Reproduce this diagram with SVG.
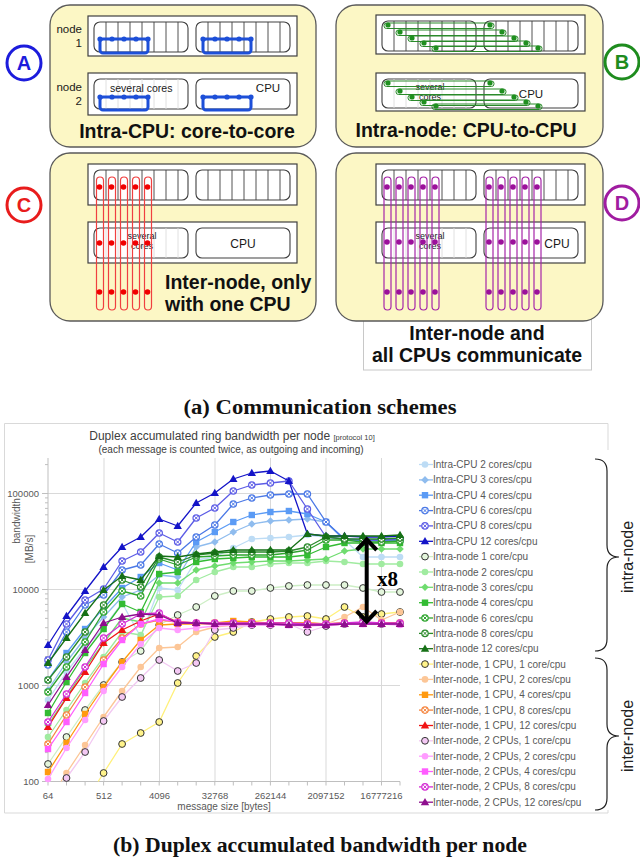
<svg xmlns="http://www.w3.org/2000/svg" width="640" height="859" viewBox="0 0 640 859">
<style>
  .panel{fill:#fcf7c5;stroke:#5a5a5a;stroke-width:1.3}
  .nodebox{fill:#fff;stroke:#404040;stroke-width:1.2}
  .cpu{fill:#fff;stroke:#404040;stroke-width:1.1}
  .core{stroke:#404040;stroke-width:0.9;fill:none}
  .corefaint{stroke:#dcdcdc;stroke-width:0.9;fill:none}
  .sans{font-family:"Liberation Sans",Arial,sans-serif}
  .lbl{font-family:"Liberation Sans",Arial,sans-serif;fill:#1a1a1a}
  .sm{font-size:9px;text-anchor:middle}
  .head{font-family:"Liberation Sans",Arial,sans-serif;font-weight:bold;font-size:19.5px;fill:#111}
  .tag circle{fill:#fff;stroke-width:3}
  .tag text{font-family:"Liberation Sans",Arial,sans-serif;font-weight:bold;font-size:20px;text-anchor:middle}
  .blue{stroke:#1d4fd8;fill:none;stroke-width:3}
  .green{stroke:#2a8a2a;fill:none;stroke-width:1}
  .red{stroke:#f04040;fill:none;stroke-width:1.2}
  .purple{stroke:#a626a8;fill:none;stroke-width:1.2}
  .cap{font-family:"Liberation Serif","Times New Roman",serif;font-weight:bold;font-size:20px;fill:#111;text-anchor:middle}
  .grid{stroke:#d9d9d9;stroke-width:1;fill:none}
  .axis{stroke:#bfbfbf;stroke-width:1;fill:none}
  .tk{font-family:"Liberation Sans",Arial,sans-serif;font-size:9.5px;fill:#595959}
  .leg text{font-family:"Liberation Sans",Arial,sans-serif;font-size:10px;fill:#595959}
  .leg polyline{marker-start:none;marker-end:none}
  .ser{fill:none;stroke-width:1.3;stroke-linejoin:round}
  .s1{stroke:#bddcf5;marker:url(#m1)} .s2{stroke:#8fbcee;marker:url(#m2)} .s3{stroke:#5b9bf5;marker:url(#m3)}
  .s4{stroke:#4a78e6;marker:url(#m4)} .s5{stroke:#5c5ce6;marker:url(#m5)} .s6{stroke:#1414c8;marker:url(#m6)}
  .s7{stroke:#cdeec5;marker:url(#m7)} .s8{stroke:#a0eba0;marker:url(#m8)} .s9{stroke:#6fdc6f;marker:url(#m9)}
  .s10{stroke:#33bb33;marker:url(#m10)} .s11{stroke:#2ea52e;marker:url(#m11)} .s12{stroke:#2a8a2a;marker:url(#m12)}
  .s13{stroke:#167016;marker:url(#m13)} .s14{stroke:#fff07a;marker:url(#m14)} .s15{stroke:#fcc697;marker:url(#m15)}
  .s16{stroke:#ff9a10;marker:url(#m16)} .s17{stroke:#f5853f;marker:url(#m17)} .s18{stroke:#f01414;marker:url(#m18)}
  .s19{stroke:#f2c8f2;marker:url(#m19)} .s20{stroke:#ff9cff;marker:url(#m20)} .s21{stroke:#ff5cff;marker:url(#m21)}
  .s22{stroke:#d42cd4;marker:url(#m22)} .s23{stroke:#8e0e8e;marker:url(#m23)}
</style>
<defs>
  <marker id="m1" viewBox="-6 -6 12 12" markerWidth="12" markerHeight="12" markerUnits="userSpaceOnUse"><circle r="3.3" fill="#bddcf5"/></marker>
  <marker id="m2" viewBox="-6 -6 12 12" markerWidth="12" markerHeight="12" markerUnits="userSpaceOnUse"><path d="M0,-3.8L3.8,0L0,3.8L-3.8,0Z" fill="#8fbcee"/></marker>
  <marker id="m3" viewBox="-6 -6 12 12" markerWidth="12" markerHeight="12" markerUnits="userSpaceOnUse"><rect x="-3.2" y="-3.2" width="6.4" height="6.4" fill="#5b9bf5"/></marker>
  <marker id="m4" viewBox="-6 -6 12 12" markerWidth="12" markerHeight="12" markerUnits="userSpaceOnUse"><circle r="3.2" fill="#fff" stroke="#4a78e6" stroke-width="1.2"/><path d="M-1.8,-1.8L1.8,1.8M-1.8,1.8L1.8,-1.8" stroke="#4a78e6" stroke-width="1"/></marker>
  <marker id="m5" viewBox="-6 -6 12 12" markerWidth="12" markerHeight="12" markerUnits="userSpaceOnUse"><circle r="3.2" fill="#fff" stroke="#5c5ce6" stroke-width="1.2"/><path d="M-1.8,-1.8L1.8,1.8M-1.8,1.8L1.8,-1.8" stroke="#5c5ce6" stroke-width="1"/></marker>
  <marker id="m6" viewBox="-6 -6 12 12" markerWidth="12" markerHeight="12" markerUnits="userSpaceOnUse"><path d="M0,-4.3L4.2,3L-4.2,3Z" fill="#1414c8"/></marker>
  <marker id="m7" viewBox="-6 -6 12 12" markerWidth="12" markerHeight="12" markerUnits="userSpaceOnUse"><circle r="3.4" fill="#e4f6dc" stroke="#333" stroke-width="1"/></marker>
  <marker id="m8" viewBox="-6 -6 12 12" markerWidth="12" markerHeight="12" markerUnits="userSpaceOnUse"><circle r="3.3" fill="#a0eba0"/></marker>
  <marker id="m9" viewBox="-6 -6 12 12" markerWidth="12" markerHeight="12" markerUnits="userSpaceOnUse"><path d="M0,-3.8L3.8,0L0,3.8L-3.8,0Z" fill="#6fdc6f"/></marker>
  <marker id="m10" viewBox="-6 -6 12 12" markerWidth="12" markerHeight="12" markerUnits="userSpaceOnUse"><rect x="-3.2" y="-3.2" width="6.4" height="6.4" fill="#33bb33"/></marker>
  <marker id="m11" viewBox="-6 -6 12 12" markerWidth="12" markerHeight="12" markerUnits="userSpaceOnUse"><circle r="3.2" fill="#fff" stroke="#2ea52e" stroke-width="1.2"/><path d="M-1.8,-1.8L1.8,1.8M-1.8,1.8L1.8,-1.8" stroke="#2ea52e" stroke-width="1"/></marker>
  <marker id="m12" viewBox="-6 -6 12 12" markerWidth="12" markerHeight="12" markerUnits="userSpaceOnUse"><circle r="3.2" fill="#fff" stroke="#2a8a2a" stroke-width="1.2"/><path d="M-1.8,-1.8L1.8,1.8M-1.8,1.8L1.8,-1.8" stroke="#2a8a2a" stroke-width="1"/></marker>
  <marker id="m13" viewBox="-6 -6 12 12" markerWidth="12" markerHeight="12" markerUnits="userSpaceOnUse"><path d="M0,-4.3L4.2,3L-4.2,3Z" fill="#167016"/></marker>
  <marker id="m14" viewBox="-6 -6 12 12" markerWidth="12" markerHeight="12" markerUnits="userSpaceOnUse"><circle r="3.4" fill="#fff38a" stroke="#333" stroke-width="1"/></marker>
  <marker id="m15" viewBox="-6 -6 12 12" markerWidth="12" markerHeight="12" markerUnits="userSpaceOnUse"><circle r="3.3" fill="#fcc697"/></marker>
  <marker id="m16" viewBox="-6 -6 12 12" markerWidth="12" markerHeight="12" markerUnits="userSpaceOnUse"><rect x="-3.2" y="-3.2" width="6.4" height="6.4" fill="#ff9a10"/></marker>
  <marker id="m17" viewBox="-6 -6 12 12" markerWidth="12" markerHeight="12" markerUnits="userSpaceOnUse"><circle r="3.2" fill="#fff" stroke="#f5853f" stroke-width="1.2"/><path d="M-1.8,-1.8L1.8,1.8M-1.8,1.8L1.8,-1.8" stroke="#f5853f" stroke-width="1"/></marker>
  <marker id="m18" viewBox="-6 -6 12 12" markerWidth="12" markerHeight="12" markerUnits="userSpaceOnUse"><path d="M0,-4.3L4.2,3L-4.2,3Z" fill="#f01414"/></marker>
  <marker id="m19" viewBox="-6 -6 12 12" markerWidth="12" markerHeight="12" markerUnits="userSpaceOnUse"><circle r="3.4" fill="#f4c8f4" stroke="#333" stroke-width="1"/></marker>
  <marker id="m20" viewBox="-6 -6 12 12" markerWidth="12" markerHeight="12" markerUnits="userSpaceOnUse"><circle r="3.3" fill="#ff9cff"/></marker>
  <marker id="m21" viewBox="-6 -6 12 12" markerWidth="12" markerHeight="12" markerUnits="userSpaceOnUse"><rect x="-3.2" y="-3.2" width="6.4" height="6.4" fill="#ff5cff"/></marker>
  <marker id="m22" viewBox="-6 -6 12 12" markerWidth="12" markerHeight="12" markerUnits="userSpaceOnUse"><circle r="3.2" fill="#fff" stroke="#d42cd4" stroke-width="1.2"/><path d="M-1.8,-1.8L1.8,1.8M-1.8,1.8L1.8,-1.8" stroke="#d42cd4" stroke-width="1"/></marker>
  <marker id="m23" viewBox="-6 -6 12 12" markerWidth="12" markerHeight="12" markerUnits="userSpaceOnUse"><path d="M0,-4.3L4.2,3L-4.2,3Z" fill="#8e0e8e"/></marker>
</defs>

<rect width="640" height="859" fill="#fff"/>

<!-- ===== (a) communication schemes ===== -->
<g id="panel-a">
  <rect class="panel" x="50" y="5" width="266" height="142" rx="20"/>
  <rect class="nodebox" x="88" y="16" width="209" height="40"/>
  <rect class="cpu" x="94" y="22" width="94" height="30" rx="6"/>
  <rect class="cpu" x="196" y="22" width="94" height="30" rx="6"/>
  <path class="core" d="M106,22V52M118,22V52M130,22V52M142,22V52M154,22V52M166,22V52M178,22V52M208,22V52M220,22V52M232,22V52M244,22V52M256,22V52M268,22V52M280,22V52"/>
  <rect class="nodebox" x="88" y="73" width="209" height="42"/>
  <rect class="cpu" x="94" y="79" width="94" height="30" rx="6"/>
  <rect class="cpu" x="196" y="79" width="94" height="30" rx="6"/>
  <path class="corefaint" d="M106,79V109M118,79V109M130,79V109M142,79V109M154,79V109M166,79V109M178,79V109"/>
  <text class="lbl" x="82" y="33" font-size="11.5" text-anchor="end">node</text>
  <text class="lbl" x="82" y="47" font-size="11.5" text-anchor="end">1</text>
  <text class="lbl" x="82" y="91" font-size="11.5" text-anchor="end">node</text>
  <text class="lbl" x="82" y="105" font-size="11.5" text-anchor="end">2</text>
  <text class="lbl" x="110" y="92" font-size="10.5">several cores</text>
  <text class="lbl" x="268" y="92" font-size="11.5" text-anchor="middle">CPU</text>
  <g id="rings-a" fill="#1d4fd8">
    <rect class="blue" x="100" y="39" width="48" height="14" rx="3"/>
    <rect class="blue" x="203" y="39" width="48" height="14" rx="3"/>
    <rect class="blue" x="100" y="97" width="48" height="13" rx="3"/>
    <rect class="blue" x="203" y="97" width="48" height="13" rx="3"/>
    <circle cx="100" cy="39" r="2.6"/><circle cx="112" cy="39" r="2.6"/><circle cx="124" cy="39" r="2.6"/><circle cx="136" cy="39" r="2.6"/><circle cx="148" cy="39" r="2.6"/>
    <circle cx="203" cy="39" r="2.6"/><circle cx="215" cy="39" r="2.6"/><circle cx="227" cy="39" r="2.6"/><circle cx="239" cy="39" r="2.6"/><circle cx="251" cy="39" r="2.6"/>
    <circle cx="100" cy="97" r="2.6"/><circle cx="112" cy="97" r="2.6"/><circle cx="124" cy="97" r="2.6"/><circle cx="136" cy="97" r="2.6"/><circle cx="148" cy="97" r="2.6"/>
    <circle cx="203" cy="97" r="2.6"/><circle cx="215" cy="97" r="2.6"/><circle cx="227" cy="97" r="2.6"/><circle cx="239" cy="97" r="2.6"/><circle cx="251" cy="97" r="2.6"/>
  </g>
  <text class="head" x="187" y="138" text-anchor="middle">Intra-CPU: core-to-core</text>
  <g class="tag"><circle cx="24" cy="63" r="17" stroke="#1c1cdc"/><text x="24" y="70" fill="#1c1cdc">A</text></g>
</g>

<g id="panel-b">
  <rect class="panel" x="336" y="5" width="267" height="142" rx="20"/>
  <rect class="nodebox" x="376" y="15" width="209" height="39"/>
  <rect class="cpu" x="382" y="21" width="94" height="30" rx="6"/>
  <rect class="cpu" x="484" y="21" width="94" height="30" rx="6"/>
  <path class="core" d="M394,21V51M406,21V51M418,21V51M430,21V51M442,21V51M454,21V51M466,21V51M496,21V51M508,21V51M520,21V51M532,21V51M544,21V51M556,21V51M568,21V51"/>
  <rect class="nodebox" x="376" y="73" width="209" height="38"/>
  <rect class="cpu" x="382" y="79" width="94" height="29" rx="6"/>
  <rect class="cpu" x="484" y="79" width="94" height="29" rx="6"/>
  <path class="corefaint" d="M394,79V108M406,79V108M418,79V108M430,79V108M442,79V108M454,79V108M466,79V108"/>
  <text class="lbl sm" x="430" y="89.5">several</text>
  <text class="lbl sm" x="430" y="99.5">cores</text>
  <text class="lbl" x="531" y="98" font-size="11.5" text-anchor="middle">CPU</text>
  <g id="rings-b" fill="#1f8f1f">
    <rect class="green" x="384" y="23" width="110" height="5.5" rx="2.5"/>
    <rect class="green" x="396" y="30" width="110" height="5.5" rx="2.5"/>
    <rect class="green" x="408" y="36" width="110" height="5.5" rx="2.5"/>
    <rect class="green" x="420" y="41" width="110" height="5.5" rx="2.5"/>
    <rect class="green" x="432" y="46" width="110" height="5.5" rx="2.5"/>
    <circle cx="388" cy="25" r="2.6"/><circle cx="490" cy="25" r="2.6"/>
    <circle cx="400" cy="32" r="2.6"/><circle cx="502" cy="32" r="2.6"/>
    <circle cx="412" cy="38" r="2.6"/><circle cx="514" cy="38" r="2.6"/>
    <circle cx="424" cy="43" r="2.6"/><circle cx="526" cy="43" r="2.6"/>
    <circle cx="436" cy="48" r="2.6"/><circle cx="538" cy="48" r="2.6"/>
    <rect class="green" x="384" y="81" width="110" height="5.5" rx="2.5"/>
    <rect class="green" x="396" y="89" width="110" height="5.5" rx="2.5"/>
    <rect class="green" x="408" y="95" width="110" height="5.5" rx="2.5"/>
    <rect class="green" x="420" y="100" width="110" height="5.5" rx="2.5"/>
    <rect class="green" x="432" y="104" width="110" height="5.5" rx="2.5"/>
    <circle cx="388" cy="83" r="2.6"/><circle cx="490" cy="83" r="2.6"/>
    <circle cx="400" cy="91" r="2.6"/><circle cx="502" cy="91" r="2.6"/>
    <circle cx="412" cy="97" r="2.6"/><circle cx="514" cy="97" r="2.6"/>
    <circle cx="424" cy="102" r="2.6"/><circle cx="526" cy="102" r="2.6"/>
    <circle cx="436" cy="106" r="2.6"/><circle cx="538" cy="106" r="2.6"/>
  </g>
  <text class="head" x="466" y="137" text-anchor="middle">Intra-node: CPU-to-CPU</text>
  <g class="tag"><circle cx="622" cy="62" r="17" stroke="#1e8c1e"/><text x="622" y="69" fill="#1e8c1e">B</text></g>
</g>

<g id="panel-c">
  <rect class="panel" x="50" y="153" width="266" height="168" rx="20"/>
  <rect class="nodebox" x="88" y="164" width="209" height="41"/>
  <rect class="cpu" x="94" y="170" width="94" height="30" rx="6"/>
  <rect class="cpu" x="196" y="170" width="94" height="30" rx="6"/>
  <path class="core" d="M106,170V200M118,170V200M130,170V200M142,170V200M154,170V200M166,170V200M178,170V200M208,170V200M220,170V200M232,170V200M244,170V200M256,170V200M268,170V200M280,170V200"/>
  <rect class="nodebox" x="88" y="222" width="209" height="41"/>
  <rect class="cpu" x="94" y="228" width="94" height="30" rx="6"/>
  <rect class="cpu" x="196" y="228" width="94" height="30" rx="6"/>
  <path class="corefaint" d="M106,228V258M118,228V258M130,228V258M142,228V258M154,228V258M166,228V258M178,228V258"/>
  <text class="lbl sm" x="142" y="238.5">several</text>
  <text class="lbl sm" x="142" y="248.5">cores</text>
  <text class="lbl" x="243" y="248" font-size="12" text-anchor="middle">CPU</text>
  <g id="rings-c" fill="#f00000">
    <rect class="red" x="96.5" y="177" width="7" height="133" rx="3.5"/>
    <rect class="red" x="108.5" y="177" width="7" height="133" rx="3.5"/>
    <rect class="red" x="120.5" y="177" width="7" height="133" rx="3.5"/>
    <rect class="red" x="132.5" y="177" width="7" height="133" rx="3.5"/>
    <rect class="red" x="144.5" y="177" width="7" height="133" rx="3.5"/>
    <circle cx="99.5" cy="187" r="2.8"/><circle cx="111.5" cy="187" r="2.8"/><circle cx="123.5" cy="187" r="2.8"/><circle cx="135.5" cy="187" r="2.8"/><circle cx="147.5" cy="187" r="2.8"/>
    <circle cx="99.5" cy="243" r="2.8"/><circle cx="111.5" cy="243" r="2.8"/><circle cx="123.5" cy="243" r="2.8"/><circle cx="135.5" cy="243" r="2.8"/><circle cx="147.5" cy="243" r="2.8"/>
    <circle cx="99.5" cy="292" r="2.8"/><circle cx="111.5" cy="292" r="2.8"/><circle cx="123.5" cy="292" r="2.8"/><circle cx="135.5" cy="292" r="2.8"/><circle cx="147.5" cy="292" r="2.8"/>
  </g>
  <text class="head" x="165" y="289">Inter-node, only</text>
  <text class="head" x="165" y="311">with one CPU</text>
  <g class="tag"><circle cx="24" cy="205" r="17" stroke="#e81c1c"/><text x="24" y="212" fill="#e81c1c">C</text></g>
</g>

<g id="panel-d">
  <rect x="363.5" y="300" width="228" height="70" fill="#fff" stroke="#c8c8c8"/>
  <rect class="panel" x="336" y="153" width="267" height="168" rx="20"/>
  <rect class="nodebox" x="376" y="164" width="209" height="41"/>
  <rect class="cpu" x="382" y="170" width="94" height="30" rx="6"/>
  <rect class="cpu" x="484" y="170" width="94" height="30" rx="6"/>
  <path class="core" d="M394,170V200M406,170V200M418,170V200M430,170V200M442,170V200M454,170V200M466,170V200M496,170V200M508,170V200M520,170V200M532,170V200M544,170V200M556,170V200M568,170V200"/>
  <rect class="nodebox" x="376" y="222" width="209" height="41"/>
  <rect class="cpu" x="382" y="228" width="94" height="30" rx="6"/>
  <rect class="cpu" x="484" y="228" width="94" height="30" rx="6"/>
  <path class="corefaint" d="M394,228V258M406,228V258M418,228V258M430,228V258M442,228V258M454,228V258M466,228V258"/>
  <text class="lbl sm" x="430" y="238.5">several</text>
  <text class="lbl sm" x="430" y="248.5">cores</text>
  <text class="lbl" x="557" y="248" font-size="12" text-anchor="middle">CPU</text>
  <g id="rings-d" fill="#9b109b">
    <rect class="purple" x="384" y="177" width="7" height="133" rx="3.5"/>
    <rect class="purple" x="396" y="177" width="7" height="133" rx="3.5"/>
    <rect class="purple" x="408" y="177" width="7" height="133" rx="3.5"/>
    <rect class="purple" x="420" y="177" width="7" height="133" rx="3.5"/>
    <rect class="purple" x="432" y="177" width="7" height="133" rx="3.5"/>
    <rect class="purple" x="486" y="177" width="7" height="133" rx="3.5"/>
    <rect class="purple" x="498" y="177" width="7" height="133" rx="3.5"/>
    <rect class="purple" x="510" y="177" width="7" height="133" rx="3.5"/>
    <rect class="purple" x="522" y="177" width="7" height="133" rx="3.5"/>
    <rect class="purple" x="534" y="177" width="7" height="133" rx="3.5"/>
    <circle cx="387" cy="187" r="2.8"/><circle cx="399" cy="187" r="2.8"/><circle cx="411" cy="187" r="2.8"/><circle cx="423" cy="187" r="2.8"/><circle cx="435" cy="187" r="2.8"/>
    <circle cx="489" cy="187" r="2.8"/><circle cx="501" cy="187" r="2.8"/><circle cx="513" cy="187" r="2.8"/><circle cx="525" cy="187" r="2.8"/><circle cx="537" cy="187" r="2.8"/>
    <circle cx="387" cy="242" r="2.8"/><circle cx="399" cy="242" r="2.8"/><circle cx="411" cy="242" r="2.8"/><circle cx="423" cy="242" r="2.8"/><circle cx="435" cy="242" r="2.8"/>
    <circle cx="489" cy="242" r="2.8"/><circle cx="501" cy="242" r="2.8"/><circle cx="513" cy="242" r="2.8"/><circle cx="525" cy="242" r="2.8"/><circle cx="537" cy="242" r="2.8"/>
    <circle cx="387" cy="292" r="2.8"/><circle cx="399" cy="292" r="2.8"/><circle cx="411" cy="292" r="2.8"/><circle cx="423" cy="292" r="2.8"/><circle cx="435" cy="292" r="2.8"/>
    <circle cx="489" cy="292" r="2.8"/><circle cx="501" cy="292" r="2.8"/><circle cx="513" cy="292" r="2.8"/><circle cx="525" cy="292" r="2.8"/><circle cx="537" cy="292" r="2.8"/>
  </g>
  <text class="head" x="477" y="340" text-anchor="middle">Inter-node and</text>
  <text class="head" x="477" y="362" text-anchor="middle">all CPUs communicate</text>
  <g class="tag"><circle cx="622" cy="203" r="17" stroke="#a01ca0"/><text x="622" y="210" fill="#a01ca0">D</text></g>
</g>

<text class="cap" x="320" y="414" textLength="273" lengthAdjust="spacingAndGlyphs">(a) Communication schemes</text>

<!-- ===== (b) bandwidth chart ===== -->
<g id="chart">
  <path d="M608,450V423.5H4.5V813H608V810" fill="none" stroke="#d9d9d9"/>
  <text class="sans" x="232" y="440" font-size="12" fill="#404040" text-anchor="middle">Duplex accumulated ring bandwidth per node <tspan font-size="7.5">[protocol 10]</tspan></text>
  <text class="sans" x="231" y="453" font-size="10" fill="#404040" text-anchor="middle">(each message is counted twice, as outgoing and incoming)</text>

  <g id="grid">
    <path class="grid" d="M48,493.5H400M48,589.5H400M48,685.5H400"/>
    <path class="grid" d="M104,458V781.5M159.5,458V781.5M215,458V781.5M270.5,458V781.5M326,458V781.5M381.5,458V781.5"/>
    <path class="axis" d="M48,458V781.5H400"/>
    <path class="axis" d="M48,781.5v4M66.5,781.5v4M85.1,781.5v4M103.6,781.5v4M122.1,781.5v4M140.7,781.5v4M159.2,781.5v4M177.7,781.5v4M196.2,781.5v4M214.8,781.5v4M233.3,781.5v4M251.8,781.5v4M270.4,781.5v4M288.9,781.5v4M307.4,781.5v4M326,781.5v4M344.5,781.5v4M363,781.5v4M381.5,781.5v4M400,781.5v4"/>
    <path class="axis" d="M42,781.5h6M42,685.5h6M42,589.5h6M42,493.5h6M45,752.6h3M45,735.7h3M45,723.7h3M45,714.4h3M45,706.8h3M45,700.4h3M45,694.8h3M45,689.9h3M45,656.6h3M45,639.7h3M45,627.7h3M45,618.4h3M45,610.8h3M45,604.4h3M45,598.8h3M45,593.9h3M45,560.6h3M45,543.7h3M45,531.7h3M45,522.4h3M45,514.8h3M45,508.4h3M45,502.8h3M45,497.9h3M45,464.6h3"/>
  </g>
  <g id="ticks" class="tk">
    <text x="39" y="497" text-anchor="end">100000</text>
    <text x="39" y="593" text-anchor="end">10000</text>
    <text x="39" y="689" text-anchor="end">1000</text>
    <text x="39" y="785" text-anchor="end">100</text>
    <text x="48" y="799" text-anchor="middle">64</text>
    <text x="104" y="799" text-anchor="middle">512</text>
    <text x="159.5" y="799" text-anchor="middle">4096</text>
    <text x="215" y="799" text-anchor="middle">32768</text>
    <text x="270.5" y="799" text-anchor="middle">262144</text>
    <text x="326" y="799" text-anchor="middle">2097152</text>
    <text x="381.5" y="799" text-anchor="middle">16777216</text>
    <text x="224" y="810" font-size="10" text-anchor="middle">message size [bytes]</text>
    <text transform="translate(20,521) rotate(-90)" font-size="10" text-anchor="middle">bandwidth</text>
    <text transform="translate(33,549) rotate(-90)" font-size="10" text-anchor="middle">[MB/s]</text>
  </g>

  <g id="series">
    <polyline class="ser s1" points="48,700 66.5,672 85.1,648 103.6,628 122.1,603 140.7,637 159.2,588 177.7,590 196.2,560 214.8,557 233.3,548 251.8,539 270.4,538 288.9,537 307.4,535 326,537 344.5,540 363,557 381.5,557 400,557"/>
    <polyline class="ser s2" points="48,690 66.5,662 85.1,638 103.6,617 122.1,597 140.7,590 159.2,575 177.7,577 196.2,547 214.8,542 233.3,532 251.8,524 270.4,521 288.9,520 307.4,519 326,522 344.5,540 363,541 381.5,541 400,541"/>
    <polyline class="ser s3" points="48,680 66.5,653 85.1,629 103.6,608 122.1,588 140.7,577 159.2,563 177.7,570 196.2,542 214.8,532 233.3,522 251.8,515 270.4,512 288.9,511 307.4,514 326,522 344.5,540 363,540 381.5,540 400,540"/>
    <polyline class="ser s4" points="48,665 66.5,632 85.1,605 103.6,595 122.1,570 140.7,565 159.2,544 177.7,553 196.2,537 214.8,525 233.3,504 251.8,498 270.4,495 288.9,494 307.4,494 326,522 344.5,539 363,540 381.5,540 400,540"/>
    <polyline class="ser s5" points="48,660 66.5,624 85.1,600 103.6,589 122.1,561 140.7,552 159.2,533 177.7,542 196.2,518 214.8,508 233.3,491 251.8,485 270.4,483 288.9,481 307.4,509 326,537 344.5,539 363,540 381.5,540 400,539"/>
    <polyline class="ser s6" points="48,645 66.5,616 85.1,591 103.6,567 122.1,547 140.7,537 159.2,519 177.7,526 196.2,503 214.8,493 233.3,479 251.8,473 270.4,471 288.9,481 307.4,534 326,536 344.5,536 363,537 381.5,537 400,536"/>
    <polyline class="ser s7" points="48,764 66.5,737 85.1,710 103.6,685 122.1,662 140.7,651 159.2,625 177.7,615 196.2,607 214.8,596 233.3,591 251.8,591 270.4,588 288.9,586 307.4,585 326,585 344.5,585 363,588 381.5,592 400,592"/>
    <polyline class="ser s8" points="48,737 66.5,710 85.1,683 103.6,657 122.1,632 140.7,635 159.2,597 177.7,596 196.2,580 214.8,572 233.3,567 251.8,567 270.4,564 288.9,563 307.4,563 326,561 344.5,562 363,564 381.5,564 400,564"/>
    <polyline class="ser s9" points="48,725 66.5,697 85.1,668 103.6,643 122.1,618 140.7,622 159.2,583 177.7,583 196.2,570 214.8,566 233.3,563 251.8,562 270.4,561 288.9,561 307.4,560 326,559 344.5,551 363,549 381.5,549 400,549"/>
    <polyline class="ser s10" points="48,713 66.5,682 85.1,653 103.6,629 122.1,604 140.7,612 159.2,574 177.7,572 196.2,562 214.8,559 233.3,558 251.8,557 270.4,557 288.9,557 307.4,555 326,547 344.5,543 363,543 381.5,543 400,543"/>
    <polyline class="ser s11" points="48,692 66.5,667 85.1,642 103.6,612 122.1,591 140.7,596 159.2,559 177.7,565 196.2,557 214.8,556 233.3,555 251.8,555 270.4,555 288.9,553 307.4,550 326,540 344.5,540 363,542 381.5,542 400,541"/>
    <polyline class="ser s12" points="48,680 66.5,657 85.1,632 103.6,605 122.1,580 140.7,587 159.2,557 177.7,562 196.2,555 214.8,553 233.3,552 251.8,552 270.4,552 288.9,551 307.4,547 326,537 344.5,539 363,539 381.5,539 400,538"/>
    <polyline class="ser s13" points="48,663 66.5,638 85.1,613 103.6,590 122.1,576 140.7,580 159.2,556 177.7,557 196.2,554 214.8,552 233.3,550 251.8,550 270.4,550 288.9,550 307.4,534 326,536 344.5,536 363,536 381.5,536 400,535"/>
    <path class="ser" stroke="#fff07a" d="M98.2,781.5L103.6,773"/>
    <polyline class="ser s14" points="103.6,773 122.1,744 140.7,733 159.2,722 177.7,683 196.2,656 214.8,637 233.3,632 251.8,622 270.4,619 288.9,617 307.4,616 326,619 344.5,607 363,617 381.5,614 400,612"/>
    <path class="ser" stroke="#fcc697" d="M61,781.5L66.5,773"/>
    <polyline class="ser s15" points="66.5,773 85.1,745 103.6,717 122.1,691 140.7,667 159.2,648 177.7,647 196.2,632 214.8,627 233.3,625 251.8,625 270.4,625 288.9,624 307.4,626 326,624 344.5,617 363,607 381.5,620 400,612"/>
    <polyline class="ser s16" points="48,772 66.5,743 85.1,714 103.6,687 122.1,662 140.7,640 159.2,625 177.7,624 196.2,624 214.8,623 233.3,621 251.8,622 270.4,623 288.9,623 307.4,623 326,624 344.5,623 363,623 381.5,623 400,623"/>
    <polyline class="ser s17" points="48,744 66.5,715 85.1,687 103.6,660 122.1,638 140.7,624 159.2,620 177.7,622 196.2,623 214.8,623 233.3,623 251.8,623 270.4,623 288.9,623 307.4,623 326,624 344.5,623 363,623 381.5,623 400,623"/>
    <polyline class="ser s18" points="48,727 66.5,698 85.1,672 103.6,643 122.1,630 140.7,621 159.2,614 177.7,622 196.2,623 214.8,624 233.3,624 251.8,624 270.4,624 288.9,624 307.4,625 326,625 344.5,624 363,624 381.5,624 400,624"/>
    <path class="ser" stroke="#f2c8f2" d="M64,781.5L66.5,778"/>
    <polyline class="ser s19" points="66.5,778 85.1,752 103.6,721 122.1,697 140.7,678 159.2,660 177.7,671 196.2,663 214.8,630 233.3,628 251.8,625 270.4,625 288.9,624 307.4,632 326,626 344.5,624 363,623 381.5,624 400,624"/>
    <polyline class="ser s20" points="48,779 66.5,748 85.1,720 103.6,691 122.1,667 140.7,644 159.2,628 177.7,630 196.2,628 214.8,626 233.3,625 251.8,625 270.4,625 288.9,625 307.4,626 326,625 344.5,624 363,624 381.5,624 400,625"/>
    <polyline class="ser s21" points="48,749 66.5,722 85.1,693 103.6,664 122.1,640 140.7,624 159.2,619 177.7,622 196.2,623 214.8,624 233.3,624 251.8,624 270.4,624 288.9,625 307.4,625 326,625 344.5,624 363,624 381.5,624 400,624"/>
    <polyline class="ser s22" points="48,722 66.5,694 85.1,667 103.6,638 122.1,624 140.7,614 159.2,613 177.7,623 196.2,623 214.8,623 233.3,623 251.8,623 270.4,623 288.9,623 307.4,624 326,624 344.5,623 363,622 381.5,623 400,623"/>
    <polyline class="ser s23" points="48,705 66.5,677 85.1,650 103.6,623 122.1,617 140.7,614 159.2,615 177.7,623 196.2,623 214.8,624 233.3,624 251.8,624 270.4,624 288.9,625 307.4,625 326,625 344.5,624 363,624 381.5,624 400,624"/>
  </g>

  <g id="gap-arrow" stroke="#000" stroke-width="4" fill="none">
    <path d="M366.7,541V620"/>
    <path d="M356.7,550L366.7,539.5L376.7,550"/>
    <path d="M356.7,611L366.7,621.5L376.7,611"/>
  </g>
  <text x="377" y="586" font-family="Liberation Serif,Times New Roman,serif" font-weight="bold" font-size="21" fill="#000">x8</text>

  <g id="legend" class="leg">
    <polyline class="ser s1" points="419,464.5 425,464.5 433,464.5"/><text x="433" y="468">Intra-CPU 2 cores/cpu</text>
    <polyline class="ser s2" points="419,479.9 425,479.9 433,479.9"/><text x="433" y="483.4">Intra-CPU 3 cores/cpu</text>
    <polyline class="ser s3" points="419,495.2 425,495.2 433,495.2"/><text x="433" y="498.7">Intra-CPU 4 cores/cpu</text>
    <polyline class="ser s4" points="419,510.6 425,510.6 433,510.6"/><text x="433" y="514.1">Intra-CPU 6 cores/cpu</text>
    <polyline class="ser s5" points="419,525.9 425,525.9 433,525.9"/><text x="433" y="529.4">Intra-CPU 8 cores/cpu</text>
    <polyline class="ser s6" points="419,541.3 425,541.3 433,541.3"/><text x="433" y="544.8">Intra-CPU 12 cores/cpu</text>
    <polyline class="ser s7" points="419,556.6 425,556.6 433,556.6"/><text x="433" y="560.1">Intra-node 1 core/cpu</text>
    <polyline class="ser s8" points="419,572 425,572 433,572"/><text x="433" y="575.5">Intra-node 2 cores/cpu</text>
    <polyline class="ser s9" points="419,587.3 425,587.3 433,587.3"/><text x="433" y="590.8">Intra-node 3 cores/cpu</text>
    <polyline class="ser s10" points="419,602.7 425,602.7 433,602.7"/><text x="433" y="606.2">Intra-node 4 cores/cpu</text>
    <polyline class="ser s11" points="419,618 425,618 433,618"/><text x="433" y="621.5">Intra-node 6 cores/cpu</text>
    <polyline class="ser s12" points="419,633.4 425,633.4 433,633.4"/><text x="433" y="636.9">Intra-node 8 cores/cpu</text>
    <polyline class="ser s13" points="419,648.7 425,648.7 433,648.7"/><text x="433" y="652.2">Intra-node 12 cores/cpu</text>
    <polyline class="ser s14" points="419,664.1 425,664.1 433,664.1"/><text x="433" y="667.6">Inter-node, 1 CPU, 1 core/cpu</text>
    <polyline class="ser s15" points="419,679.4 425,679.4 433,679.4"/><text x="433" y="682.9">Inter-node, 1 CPU, 2 cores/cpu</text>
    <polyline class="ser s16" points="419,694.8 425,694.8 433,694.8"/><text x="433" y="698.3">Inter-node, 1 CPU, 4 cores/cpu</text>
    <polyline class="ser s17" points="419,710.1 425,710.1 433,710.1"/><text x="433" y="713.6">Inter-node, 1 CPU, 8 cores/cpu</text>
    <polyline class="ser s18" points="419,725.5 425,725.5 433,725.5"/><text x="433" y="729">Inter-node, 1 CPU, 12 cores/cpu</text>
    <polyline class="ser s19" points="419,740.8 425,740.8 433,740.8"/><text x="433" y="744.3">Inter-node, 2 CPUs, 1 core/cpu</text>
    <polyline class="ser s20" points="419,756.2 425,756.2 433,756.2"/><text x="433" y="759.7">Inter-node, 2 CPUs, 2 cores/cpu</text>
    <polyline class="ser s21" points="419,771.5 425,771.5 433,771.5"/><text x="433" y="775">Inter-node, 2 CPUs, 4 cores/cpu</text>
    <polyline class="ser s22" points="419,786.9 425,786.9 433,786.9"/><text x="433" y="790.4">Inter-node, 2 CPUs, 8 cores/cpu</text>
    <polyline class="ser s23" points="419,802.2 425,802.2 433,802.2"/><text x="433" y="805.7">Inter-node, 2 CPUs, 12 cores/cpu</text>
  </g>

  <g id="braces" fill="none" stroke="#222" stroke-width="1.2">
    <path d="M595,459C603,459 607,463 607,471L607,545C607,553 611,557 619,557C611,557 607,561 607,569L607,639C607,647 603,651 595,651"/>
    <path d="M595,658C603,658 607,662 607,670L607,724C607,732 611,736 619,736C611,736 607,740 607,748L607,798C607,806 603,810 595,810"/>
  </g>
  <text class="sans" transform="translate(633,557) rotate(-90)" font-size="16" fill="#222" text-anchor="middle">intra-node</text>
  <text class="sans" transform="translate(633,736) rotate(-90)" font-size="16" fill="#222" text-anchor="middle">inter-node</text>
</g>

<text class="cap" x="320" y="852" textLength="414" lengthAdjust="spacingAndGlyphs">(b) Duplex accumulated bandwidth per node</text>
</svg>
